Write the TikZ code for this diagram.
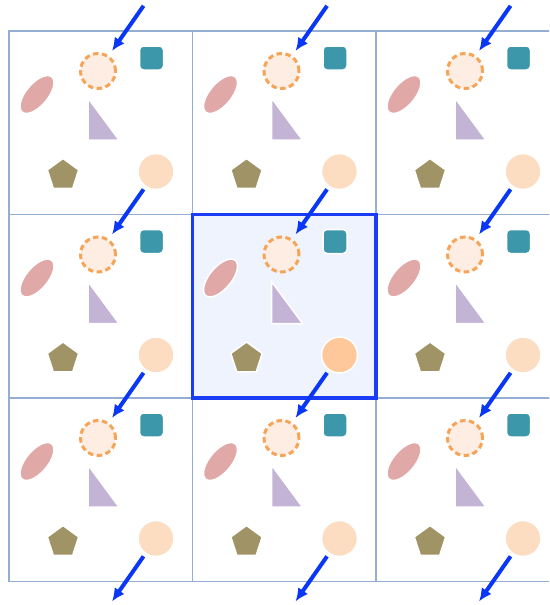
\documentclass[tikz,border=0pt]{standalone}
\usetikzlibrary{arrows.meta,shapes.geometric}
\definecolor{gridline}{HTML}{93ADD3}
\definecolor{ringfill}{HTML}{FDEDE2}
\definecolor{ringdash}{HTML}{F6A457}
\definecolor{boxteal}{HTML}{3C97AB}
\definecolor{leafrose}{HTML}{E0A9A8}
\definecolor{wedgelilac}{HTML}{C3B3D5}
\definecolor{pentdrab}{HTML}{A09466}
\definecolor{sunpeach}{HTML}{FDDDC1}
\definecolor{sunpeachdark}{HTML}{FEC89A}
\definecolor{focusfill}{HTML}{EFF3FE}
\definecolor{focusline}{HTML}{1A3CF5}
\definecolor{flowblue}{HTML}{0A36F5}

\begin{document}
\begin{tikzpicture}[x=1pt,y=-1pt,
    cellline/.style={draw=gridline,line width=1.2pt},
    ring/.style={circle,inner sep=0pt,minimum size=35pt,fill=ringfill,draw=ringdash,line width=3pt,dash pattern=on 5.5pt off 3.5pt},
    sun/.style={circle,inner sep=0pt,minimum size=36pt,draw=white,line width=1.5pt},
    tile/.style={rectangle,inner sep=0pt,minimum size=24pt,rounded corners=4pt,fill=boxteal,draw=white,line width=1.5pt},
    leaf/.style={ellipse,inner sep=0pt,minimum width=46pt,minimum height=22pt,rotate=50,fill=leafrose,draw=white,line width=1.5pt},
    pent/.style={regular polygon,regular polygon sides=5,inner sep=0pt,minimum size=33pt,fill=pentdrab,draw=white,line width=1.5pt},
    wedge/.style={fill=wedgelilac,draw=white,line width=1.5pt,line join=miter},
    flow/.style={-{Latex[length=13pt,width=12pt]},line width=4pt,draw=flowblue,shorten <=3pt,shorten >=5.5pt}]
  \useasboundingbox (0,0) rectangle (549,605);
  \fill[white] (0,0) rectangle (549,605);
  \clip (0,0) rectangle (549,605);
  % grid of cells
  \foreach \r in {1,2,3}{
    \foreach \c in {0,1,2}{
      \draw[cellline] ({9+183.5*\c},{31+183.5*(\r-1)}) rectangle ++(183.5,183.5);
    }
  }
  % the current cell
  \filldraw[fill=focusfill,draw=focusline,line width=3.5pt] (192.5,214.5) rectangle ++(183.5,183.5);
  % shapes in every cell
  \foreach \r in {1,2,3}{
    \foreach \c in {0,1,2}{
      \def\sunfill{sunpeach}
      \ifnum\r=2 \ifnum\c=1 \def\sunfill{sunpeachdark}\fi\fi
      \begin{scope}[shift={({9+183.5*\c},{31+183.5*(\r-1)})}]
        \node[ring] (ring-\r-\c) at (89,40) {};
        \node[tile] (tile-\r-\c) at (142.5,27) {};
        \node[leaf] (leaf-\r-\c) at (28,63.5) {};
        \filldraw[wedge] (79,67) -- (79,109) -- (110,109) -- cycle;
        \node[pent] (pent-\r-\c) at (54,144) {};
        \node[sun,fill=\sunfill] (sun-\r-\c) at (147,140.5) {};
      \end{scope}
    }
  }
  % anchors above and below the grid
  \foreach \c in {0,1,2}{
    \node[sun,draw=none] (sun-0-\c) at ({9+183.5*\c+147},{31-183.5+140.5}) {};
    \node[ring,draw=none,fill=none] (ring-4-\c) at ({9+183.5*\c+89},{31+3*183.5+40}) {};
  }
  % arrows
  \foreach \r in {0,1,2,3}{
    \foreach \c in {0,1,2}{
      \pgfmathtruncatemacro\nxt{\r+1}
      \draw[flow] (sun-\r-\c) -- (ring-\nxt-\c);
    }
  }
\end{tikzpicture}
\end{document}
